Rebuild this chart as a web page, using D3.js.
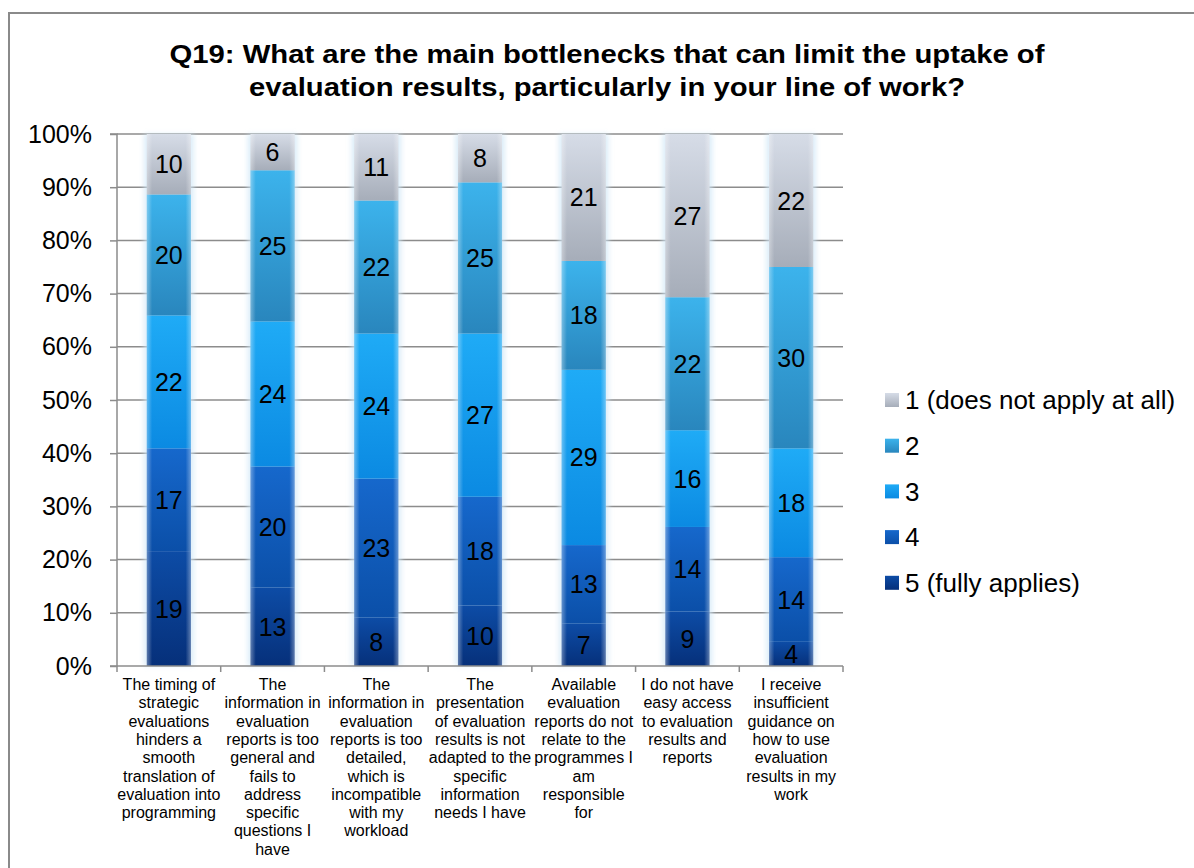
<!DOCTYPE html>
<html>
<head>
<meta charset="utf-8">
<script src="https://cdn.jsdelivr.net/npm/d3@7/dist/d3.min.js"></script>
<style>
  html, body { margin: 0; padding: 0; background: #fff; }
  svg { display: block; font-family: Arial, "Liberation Sans", sans-serif; }
</style>
</head>
<body>
<svg id="chart" width="1194" height="868"></svg>
<script>
// Survey statements (category axis), pre-broken into the lines shown under each column
const categoryLines = [
  ["The timing of", "strategic", "evaluations", "hinders a", "smooth", "translation of", "evaluation into", "programming"],
  ["The", "information in", "evaluation", "reports is too", "general and", "fails to", "address", "specific", "questions I", "have"],
  ["The", "information in", "evaluation", "reports is too", "detailed,", "which is", "incompatible", "with my", "workload"],
  ["The", "presentation", "of evaluation", "results is not", "adapted to the", "specific", "information", "needs I have"],
  ["Available", "evaluation", "reports do not", "relate to the", "programmes I", "am", "responsible", "for"],
  ["I do not have", "easy access", "to evaluation", "results and", "reports"],
  ["I receive", "insufficient", "guidance on", "how to use", "evaluation", "results in my", "work"]
];
const categories = categoryLines.map((l, i) => "c" + i);

// Response counts per rating (5 = fully applies ... 1 = does not apply at all)
const seriesNames = ["5 (fully applies)", "4", "3", "2", "1 (does not apply at all)"];
const rating5 = [19, 13, 8, 10, 7, 9, 4];
const rating4 = [17, 20, 23, 18, 13, 14, 14];
const rating3 = [22, 24, 24, 27, 29, 16, 18];
const rating2 = [20, 25, 22, 25, 18, 22, 30];
const rating1 = [10, 6, 11, 8, 21, 27, 22];
const seriesValues = [rating5, rating4, rating3, rating2, rating1];

const yTicks = [0, 0.1, 0.2, 0.3, 0.4, 0.5, 0.6, 0.7, 0.8, 0.9, 1];

// Fill gradients (top colour, bottom colour) per rating, bottom of stack first
const fills = [
  ["#0d4ca6", "#06307a"],
  ["#1668cc", "#0b4fa8"],
  ["#1fabf6", "#0b8ae2"],
  ["#3cb3ec", "#2986bd"],
  ["#d6dce7", "#a6adb9"]
];

const svg = d3.select("#chart");
const defs = svg.append("defs");

fills.forEach((c, i) => {
  const g = defs.append("linearGradient").attr("id", "fill" + i)
    .attr("x1", 0).attr("y1", 0).attr("x2", 0).attr("y2", 1);
  g.append("stop").attr("offset", "0%").attr("stop-color", c[0]);
  g.append("stop").attr("offset", "100%").attr("stop-color", c[1]);
});
const sheen = defs.append("linearGradient").attr("id", "sheen")
  .attr("x1", 0).attr("y1", 0).attr("x2", 1).attr("y2", 0);
[[0, 0.35], [0.12, 0.0], [0.88, 0.0], [1, 0.35]].forEach(([o, a]) =>
  sheen.append("stop").attr("offset", o).attr("stop-color", "#ffffff").attr("stop-opacity", a));
defs.append("filter").attr("id", "glow").attr("x", "-30%").attr("y", "-5%").attr("width", "160%").attr("height", "110%")
  .append("feGaussianBlur").attr("stdDeviation", 2.5);

// Outer chart frame
svg.append("path")
  .attr("d", "M9,900 L9,13 L1200,13")
  .attr("fill", "none").attr("stroke", "#8a8a8a").attr("stroke-width", 2);

// Title, two centred lines
const titleLines = [
  { text: "Q19: What are the main bottlenecks that can limit the uptake of", y: 63, w: 875 },
  { text: "evaluation results, particularly in your line of work?", y: 96, w: 716 }
];
svg.append("g").attr("font-weight", "bold").attr("font-size", 26).attr("fill", "#000")
  .selectAll("text").data(titleLines).join("text")
  .attr("x", d => 607 - d.w / 2).attr("y", d => d.y)
  .attr("textLength", d => d.w).attr("lengthAdjust", "spacingAndGlyphs")
  .text(d => d.text);

const plot = { left: 117, right: 843, top: 134, bottom: 666 };

const x = d3.scaleBand().domain(categories).range([plot.left, plot.right])
  .paddingInner(0.575).paddingOuter(0.2875);
const y = d3.scaleLinear().domain([0, 1]).range([plot.bottom, plot.top]);

// Gridlines
svg.append("g").selectAll("line").data(yTicks.filter(t => t > 0)).join("line")
  .attr("x1", plot.left).attr("x2", plot.right)
  .attr("y1", d => y(d)).attr("y2", d => y(d))
  .attr("stroke", "#8c8c8c").attr("stroke-width", 1.5);

// Stack the counts as shares of each column's total
const rows = categories.map((c, i) => {
  const r = { key: c };
  seriesValues.forEach((s, k) => { r["s" + k] = s[i]; });
  return r;
});
const stack = d3.stack().keys(seriesValues.map((s, k) => "s" + k)).offset(d3.stackOffsetExpand);
const layers = stack(rows);

// Soft halo behind each column
svg.append("g").selectAll("rect").data(categories).join("rect")
  .attr("x", d => x(d) - 3).attr("width", x.bandwidth() + 6)
  .attr("y", y(1)).attr("height", y(0) - y(1))
  .attr("fill", "#cfe6f6").attr("opacity", 0.7).attr("filter", "url(#glow)");

const barG = svg.append("g");
layers.forEach((layer, k) => {
  const g = barG.append("g");
  g.selectAll("rect.seg").data(layer).join("rect").attr("class", "seg")
    .attr("x", d => x(d.data.key)).attr("width", x.bandwidth())
    .attr("y", d => y(d[1])).attr("height", d => y(d[0]) - y(d[1]))
    .attr("fill", `url(#fill${k})`);
  g.selectAll("rect.sh").data(layer).join("rect").attr("class", "sh")
    .attr("x", d => x(d.data.key)).attr("width", x.bandwidth())
    .attr("y", d => y(d[1])).attr("height", d => y(d[0]) - y(d[1]))
    .attr("fill", "url(#sheen)");
});

// Value labels centred in each segment
const labelG = svg.append("g").attr("font-size", 25).attr("fill", "#000").attr("text-anchor", "middle");
layers.forEach((layer, k) => {
  labelG.selectAll(null).data(layer).join("text")
    .attr("x", d => x(d.data.key) + x.bandwidth() / 2)
    .attr("y", d => (y(d[0]) + y(d[1])) / 2)
    .attr("dy", "0.36em")
    .text((d, i) => seriesValues[k][i]);
});

// Y axis
const yAxis = d3.axisLeft(y).tickValues(yTicks).tickFormat(d3.format(".0%"))
  .tickSize(7).tickPadding(18);
const yg = svg.append("g").attr("transform", `translate(${plot.left},0)`).call(yAxis);
yg.select(".domain").attr("stroke", "#8c8c8c").attr("stroke-width", 1.5).attr("d", `M-7,${plot.top}H0V${plot.bottom}H-7`);
yg.selectAll(".tick line").attr("stroke", "#8c8c8c").attr("stroke-width", 1.5);
yg.selectAll(".tick text").attr("font-size", 25).attr("fill", "#000").attr("font-family", "Arial, 'Liberation Sans', sans-serif");

// X axis line with ticks on category boundaries
const xg = svg.append("g");
xg.append("line").attr("x1", plot.left).attr("x2", plot.right)
  .attr("y1", plot.bottom).attr("y2", plot.bottom)
  .attr("stroke", "#8c8c8c").attr("stroke-width", 1.5);
const bounds = categories.map(c => x(c) - x.step() * x.paddingInner() / 2);
bounds[0] = plot.left;
bounds.push(plot.right);
xg.selectAll("line.tk").data(bounds).join("line").attr("class", "tk")
  .attr("x1", d => d).attr("x2", d => d)
  .attr("y1", plot.bottom).attr("y2", plot.bottom + 6)
  .attr("stroke", "#8c8c8c").attr("stroke-width", 1.5);

// Category labels
const catG = svg.append("g").attr("font-size", 16).attr("fill", "#000").attr("text-anchor", "middle");
categoryLines.forEach((lines, i) => {
  const t = catG.append("text");
  lines.forEach((ln, j) => {
    t.append("tspan").attr("x", x(categories[i]) + x.bandwidth() / 2)
      .attr("y", 690 + j * 18.3).text(ln);
  });
});

// Legend (rating 1 on top)
const legendOrder = [4, 3, 2, 1, 0];
const lg = svg.append("g");
legendOrder.forEach((k, j) => {
  const cy = 400 + j * 45.7;
  lg.append("rect").attr("x", 885).attr("y", cy - 7).attr("width", 14).attr("height", 14)
    .attr("fill", `url(#fill${k})`);
  lg.append("text").attr("x", 905).attr("y", cy).attr("dy", "0.36em")
    .attr("font-size", 26).attr("fill", "#000").text(seriesNames[k]);
});
</script>
</body>
</html>
